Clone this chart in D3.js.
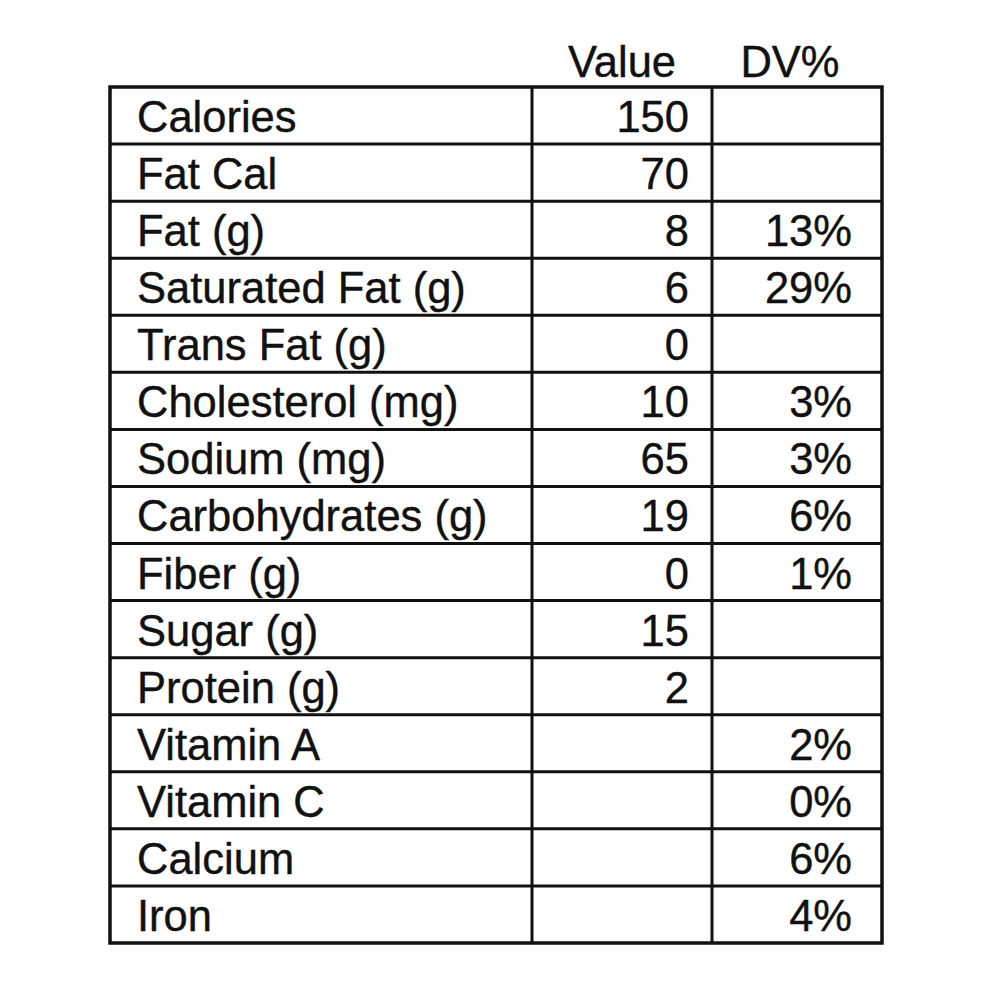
<!DOCTYPE html>
<html lang="en">
<head>
  <meta charset="utf-8">
  <title>Nutrition</title>
  <script src="https://d3js.org/d3.v7.min.js"></script>
  <style>
    body { margin: 0; background: #fff; }
    svg text { font-family: "Liberation Sans", Arial, sans-serif; fill: #111; stroke: #111; stroke-width: 0.4px; }
  </style>
</head>
<body>
  <script>
    // Table data
    const nutrients = ["Calories", "Fat Cal", "Fat (g)", "Saturated Fat (g)", "Trans Fat (g)",
      "Cholesterol (mg)", "Sodium (mg)", "Carbohydrates (g)", "Fiber (g)", "Sugar (g)",
      "Protein (g)", "Vitamin A", "Vitamin C", "Calcium", "Iron"];
    const values = ["150", "70", "8", "6", "0", "10", "65", "19", "0", "15", "2", "", "", "", ""];
    const dvPercent = ["", "", "13%", "29%", "", "3%", "3%", "6%", "1%", "", "", "2%", "0%", "6%", "4%"];
    const headers = ["Value", "DV%"];

    var width = 1000, height = 1000;
    var svg = d3.select("body").append("svg")
      .attr("width", width)
      .attr("height", height);

    // Table geometry
    var tableTop = 87, tableBottom = 943;
    var colEdges = [110, 532, 712, 882];
    var fontSize = 43.5;

    var y = d3.scaleBand()
      .domain(d3.range(nutrients.length))
      .range([tableTop, tableBottom]);

    // Header row
    svg.selectAll("text.header")
      .data(headers)
      .enter()
      .append("text")
      .attr("class", "header")
      .attr("x", function(d, i) { return i === 0 ? 622 : 790; })
      .attr("y", 77)
      .attr("text-anchor", "middle")
      .style("font-size", fontSize + "px")
      .text(function(d) { return d; });

    // Horizontal lines between rows
    svg.selectAll("line.row")
      .data(d3.range(1, nutrients.length))
      .enter()
      .append("line")
      .attr("class", "row")
      .attr("x1", colEdges[0])
      .attr("x2", colEdges[3])
      .attr("y1", function(d) { return y(d); })
      .attr("y2", function(d) { return y(d); })
      .attr("stroke", "#111")
      .attr("stroke-width", 3);

    // Column dividers
    svg.selectAll("line.col")
      .data([colEdges[1], colEdges[2]])
      .enter()
      .append("line")
      .attr("class", "col")
      .attr("x1", function(d) { return d; })
      .attr("x2", function(d) { return d; })
      .attr("y1", tableTop)
      .attr("y2", tableBottom)
      .attr("stroke", "#111")
      .attr("stroke-width", 3);

    // Outer border
    svg.append("rect")
      .attr("x", colEdges[0])
      .attr("y", tableTop)
      .attr("width", colEdges[3] - colEdges[0])
      .attr("height", tableBottom - tableTop)
      .attr("fill", "none")
      .attr("stroke", "#111")
      .attr("stroke-width", 3.5);

    var baseOffset = 45;

    // Labels
    svg.selectAll("text.label")
      .data(nutrients)
      .enter()
      .append("text")
      .attr("class", "label")
      .attr("x", 137)
      .attr("y", function(d, i) { return y(i) + baseOffset; })
      .style("font-size", fontSize + "px")
      .text(function(d) { return d; });

    // Values
    svg.selectAll("text.value")
      .data(values)
      .enter()
      .append("text")
      .attr("class", "value")
      .attr("x", 689)
      .attr("y", function(d, i) { return y(i) + baseOffset; })
      .attr("text-anchor", "end")
      .style("font-size", fontSize + "px")
      .text(function(d) { return d; });

    // DV%
    svg.selectAll("text.dv")
      .data(dvPercent)
      .enter()
      .append("text")
      .attr("class", "dv")
      .attr("x", 852)
      .attr("y", function(d, i) { return y(i) + baseOffset; })
      .attr("text-anchor", "end")
      .style("font-size", fontSize + "px")
      .text(function(d) { return d; });
  </script>
</body>
</html>
